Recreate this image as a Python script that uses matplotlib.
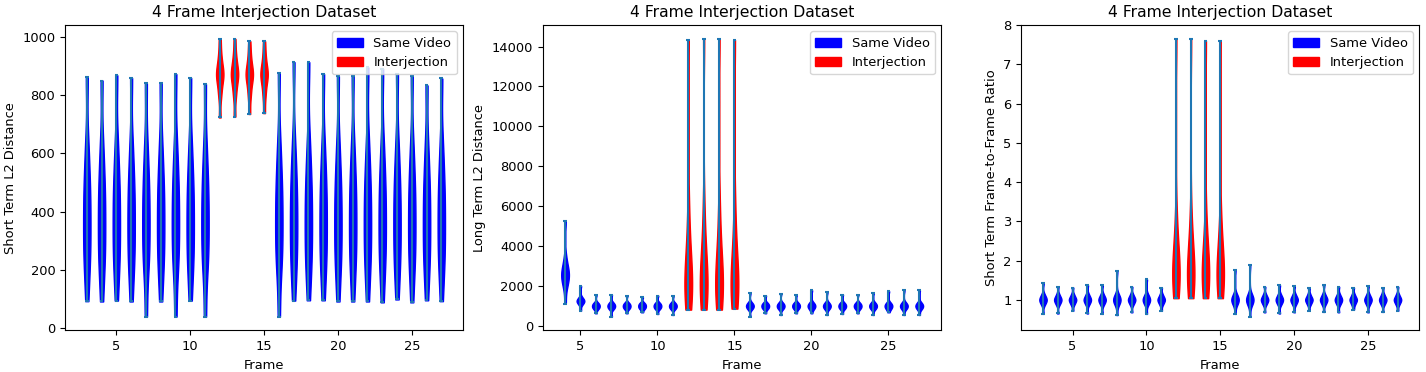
import matplotlib
matplotlib.use("Agg")
import matplotlib.pyplot as plt
from matplotlib.patches import Patch

plt.rcParams['font.size'] = 9.35

# frames 12-15 are the interjected ones
inter_frames = [12, 13, 14, 15]

# ---- short term L2 distance ----
st_frames = [3, 4, 5, 6, 7, 8, 9, 10, 11, 12, 13, 14, 15, 16, 17, 18, 19, 20, 21, 22, 23, 24, 25, 26, 27]
st_lo = [92, 91, 94, 91, 39, 91, 39, 94, 39, 723, 726, 735, 738, 39, 94, 95, 95, 91, 91, 91, 88, 98, 88, 95, 92]
st_hi = [863, 850, 868, 859, 841, 842, 872, 859, 838, 991, 993, 985, 985, 877, 913, 913, 872, 865, 865, 895, 890, 874, 865, 833, 857]
st_same_body = [190, 240, 290, 340, 390, 440, 490, 550, 640]
st_inter_body = [790, 820, 845, 860, 870, 880, 895, 915, 945]

# ---- long term L2 distance ----
lt_frames = [4, 5, 6, 7, 8, 9, 10, 11, 12, 13, 14, 15, 16, 17, 18, 19, 20, 21, 22, 23, 24, 25, 26, 27]
lt_lo = [1118, 768, 635, 468, 635, 685, 601, 551, 818, 818, 818, 868, 468, 635, 551, 635, 635, 551, 601, 635, 551, 685, 551, 551]
lt_hi = [5248, 2005, 1570, 1570, 1520, 1437, 1520, 1520, 14336, 14386, 14386, 14336, 1654, 1520, 1620, 1570, 1788, 1704, 1570, 1570, 1654, 1738, 1788, 1788]
lt_first_body = [1900, 2150, 2330, 2470, 2580, 2700, 2850, 3050, 3450]   # frame 4
lt_second_body = [1050, 1130, 1180, 1220, 1250, 1280, 1320, 1370, 1450]  # frame 5
lt_same_body = [820, 880, 920, 960, 1000, 1040, 1080, 1120, 1180]
lt_inter_body = [1200, 1500, 1800, 2100, 2450, 2850, 3400, 4300, 6000]

# ---- short term frame-to-frame ratio ----
rt_frames = st_frames
rt_lo = [0.64, 0.65, 0.72, 0.65, 0.64, 0.61, 0.68, 0.64, 0.72, 1.04, 1.04, 1.04, 1.04, 0.64, 0.57, 0.68, 0.65, 0.68, 0.72, 0.69, 0.68, 0.75, 0.68, 0.69, 0.72]
rt_hi = [1.42, 1.33, 1.31, 1.37, 1.37, 1.74, 1.33, 1.52, 1.31, 7.65, 7.65, 7.60, 7.60, 1.76, 1.89, 1.33, 1.37, 1.35, 1.29, 1.37, 1.33, 1.31, 1.35, 1.31, 1.33]
rt_same_body = [0.86, 0.91, 0.95, 0.98, 1.0, 1.02, 1.05, 1.09, 1.15]
rt_inter_body = [1.25, 1.4, 1.52, 1.63, 1.75, 1.9, 2.1, 2.45, 3.1]


def build(frames, lo, hi, same_body, inter_body, special=None):
    data = []
    for i, f in enumerate(frames):
        if special and f in special:
            body = special[f]
        elif f in inter_frames:
            body = inter_body
        else:
            body = same_body
        data.append([lo[i]] + body + [hi[i]])
    return data


def violins(ax, frames, data, ylabel):
    parts = ax.violinplot(data, positions=frames, bw_method=0.35)
    for f, pc in zip(frames, parts['bodies']):
        c = 'red' if f in inter_frames else 'blue'
        pc.set_facecolor(c)
        pc.set_edgecolor(c)
        pc.set_alpha(1)
    for key in ['cbars', 'cmins', 'cmaxes']:
        parts[key].set_color('#1f77b4')
    ax.set_title("4 Frame Interjection Dataset")
    ax.set_xlabel("Frame")
    ax.set_ylabel(ylabel)
    handles = [Patch(color='blue', label='Same Video'), Patch(color='red', label='Interjection')]
    ax.legend(handles=handles, loc='upper right')


fig, axs = plt.subplots(1, 3, figsize=(14.26, 3.72))
fig.subplots_adjust(left=0.0456, right=0.9953, bottom=0.1116, top=0.9328, wspace=0.201)

violins(axs[0], st_frames, build(st_frames, st_lo, st_hi, st_same_body, st_inter_body),
        "Short Term L2 Distance")
violins(axs[1], lt_frames, build(lt_frames, lt_lo, lt_hi, lt_same_body, lt_inter_body,
                                 special={4: lt_first_body, 5: lt_second_body}),
        "Long Term L2 Distance")
violins(axs[2], rt_frames, build(rt_frames, rt_lo, rt_hi, rt_same_body, rt_inter_body),
        "Short Term Frame-to-Frame Ratio")

fig.savefig("out.png", dpi=100)
